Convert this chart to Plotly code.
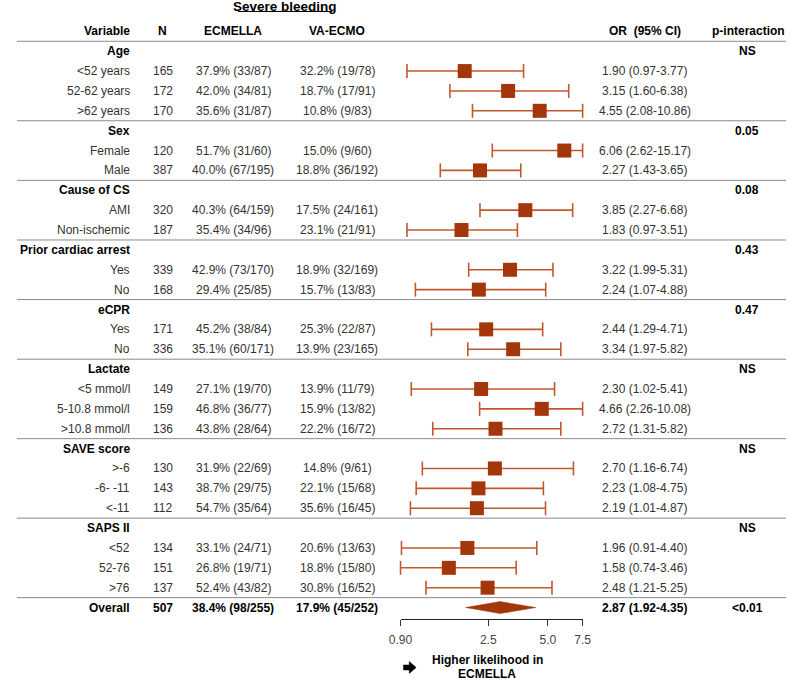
import math
import plotly.graph_objects as go

# ---------------- data ----------------
labels = ["Age", "<52 years", "52-62 years", ">62 years",
          "Sex", "Female", "Male",
          "Cause of CS", "AMI", "Non-ischemic",
          "Prior cardiac arrest", "Yes", "No",
          "eCPR", "Yes", "No",
          "Lactate", "<5 mmol/l", "5-10.8 mmol/l", ">10.8 mmol/l",
          "SAVE score", ">-6", "-6- -11", "<-11",
          "SAPS II", "<52", "52-76", ">76",
          "Overall"]
is_group = [True, False, False, False,
            True, False, False,
            True, False, False,
            True, False, False,
            True, False, False,
            True, False, False, False,
            True, False, False, False,
            True, False, False, False,
            False]
n_vals = [None, 165, 172, 170,
          None, 120, 387,
          None, 320, 187,
          None, 339, 168,
          None, 171, 336,
          None, 149, 159, 136,
          None, 130, 143, 112,
          None, 134, 151, 137,
          507]
ecmella = [None, "37.9% (33/87)", "42.0% (34/81)", "35.6% (31/87)",
           None, "51.7% (31/60)", "40.0% (67/195)",
           None, "40.3% (64/159)", "35.4% (34/96)",
           None, "42.9% (73/170)", "29.4% (25/85)",
           None, "45.2% (38/84)", "35.1% (60/171)",
           None, "27.1% (19/70)", "46.8% (36/77)", "43.8% (28/64)",
           None, "31.9% (22/69)", "38.7% (29/75)", "54.7% (35/64)",
           None, "33.1% (24/71)", "26.8% (19/71)", "52.4% (43/82)",
           "38.4% (98/255)"]
vaecmo = [None, "32.2% (19/78)", "18.7% (17/91)", "10.8% (9/83)",
          None, "15.0% (9/60)", "18.8% (36/192)",
          None, "17.5% (24/161)", "23.1% (21/91)",
          None, "18.9% (32/169)", "15.7% (13/83)",
          None, "25.3% (22/87)", "13.9% (23/165)",
          None, "13.9% (11/79)", "15.9% (13/82)", "22.2% (16/72)",
          None, "14.8% (9/61)", "22.1% (15/68)", "35.6% (16/45)",
          None, "20.6% (13/63)", "18.8% (15/80)", "30.8% (16/52)",
          "17.9% (45/252)"]
or_vals = [None, 1.90, 3.15, 4.55,
           None, 6.06, 2.27,
           None, 3.85, 1.83,
           None, 3.22, 2.24,
           None, 2.44, 3.34,
           None, 2.30, 4.66, 2.72,
           None, 2.70, 2.23, 2.19,
           None, 1.96, 1.58, 2.48,
           2.87]
ci_lo = [None, 0.97, 1.60, 2.08,
         None, 2.62, 1.43,
         None, 2.27, 0.97,
         None, 1.99, 1.07,
         None, 1.29, 1.97,
         None, 1.02, 2.26, 1.31,
         None, 1.16, 1.08, 1.01,
         None, 0.91, 0.74, 1.21,
         1.92]
ci_hi = [None, 3.77, 6.38, 10.86,
         None, 15.17, 3.65,
         None, 6.68, 3.51,
         None, 5.31, 4.88,
         None, 4.71, 5.82,
         None, 5.41, 10.08, 5.82,
         None, 6.74, 4.75, 4.87,
         None, 4.40, 3.46, 5.25,
         4.35]
p_inter = ["NS", None, None, None,
           "0.05", None, None,
           "0.08", None, None,
           "0.43", None, None,
           "0.47", None, None,
           "NS", None, None, None,
           "NS", None, None, None,
           "NS", None, None, None,
           "<0.01"]
tick_vals = [0.90, 2.5, 5.0, 7.5]
tick_text = ["0.90", "2.5", "5.0", "7.5"]

# ---------------- layout constants ----------------
W, H = 800, 681
XMIN, XMAX = 0.9, 7.5
Y0, DY = 51.2, 19.87
AXIS_Y = 619
FONT = "Liberation Sans, Arial, Helvetica, sans-serif"
SQ = "#a3360b"
BAR = "#c0582e"
TXT = "#333333"

def esc(s):
    return s.replace("&", "&amp;").replace("<", "&lt;").replace(">", "&gt;")

def ypos(i):
    return Y0 + DY * i

fig = go.Figure()

# CI lines and caps
lx, ly, cx, cy = [], [], [], []
sx, sy = [], []
for i, (o, lo, hi) in enumerate(zip(or_vals, ci_lo, ci_hi)):
    if o is None or labels[i] == "Overall":
        continue
    y = ypos(i)
    a, b = max(lo, XMIN), min(hi, XMAX)
    lx += [a, b, None]
    ly += [y, y, None]
    cx += [a, b]
    cy += [y, y]
    sx.append(o)
    sy.append(y)

fig.add_trace(go.Scatter(x=lx, y=ly, mode="lines", line=dict(color=BAR, width=1.6),
                         hoverinfo="skip", cliponaxis=False, showlegend=False))
fig.add_trace(go.Scatter(x=cx, y=cy, mode="markers",
                         marker=dict(symbol="line-ns", size=10, line=dict(color=BAR, width=1.6)),
                         hoverinfo="skip", cliponaxis=False, showlegend=False))
fig.add_trace(go.Scatter(x=sx, y=sy, mode="markers",
                         marker=dict(symbol="square", size=14, color=SQ, line=dict(width=0)),
                         cliponaxis=False, showlegend=False))

# Overall diamond
oi = labels.index("Overall")
yo = ypos(oi)
fig.add_trace(go.Scatter(x=[ci_lo[oi], or_vals[oi], ci_hi[oi], or_vals[oi], ci_lo[oi]],
                         y=[yo, yo - 6, yo, yo + 6, yo], mode="lines", fill="toself",
                         fillcolor=SQ, line=dict(color=SQ, width=0.5),
                         hoverinfo="skip", showlegend=False))

ann = []
def add_text(x, y, text, anchor="center", bold=False, color=TXT, size=12, yref="y"):
    ann.append(dict(x=x / W, y=y if yref == "y" else 1 - y / H, xref="paper", yref=yref,
                    text=("<b>%s</b>" % text) if bold else text, showarrow=False,
                    xanchor=anchor, yanchor="middle",
                    font=dict(family=FONT, size=size, color="#000" if bold else color)))

# header
hy = Y0 - DY
add_text(280, 6, "Severe bleeding", bold=True, size=13.5)
add_text(123, hy, "Variable", anchor="right", bold=True)
add_text(155, hy, "N", bold=True)
add_text(227, hy, "ECMELLA", bold=True)
add_text(334, hy, "VA-ECMO", bold=True)
add_text(650, hy, "OR&nbsp; (95% CI)", bold=True)
add_text(756, hy, "p-interaction", bold=True)

for i, lab in enumerate(labels):
    y = ypos(i)
    overall = lab == "Overall"
    bold = is_group[i] or overall
    add_text(123, y, esc(lab), anchor="right", bold=bold)
    if n_vals[i] is not None:
        add_text(155, y, str(n_vals[i]), bold=overall)
    if ecmella[i] is not None:
        add_text(227, y, ecmella[i], bold=overall)
    if vaecmo[i] is not None:
        add_text(334, y, vaecmo[i], bold=overall)
    if or_vals[i] is not None:
        add_text(650, y, "%.2f (%.2f-%.2f)" % (or_vals[i], ci_lo[i], ci_hi[i]), bold=overall)
    if p_inter[i] is not None:
        add_text(755, y, esc(p_inter[i]), bold=True)

add_text(488, 660, "Higher likelihood in", bold=True, yref="paper")
add_text(488, 673.5, "ECMELLA", bold=True, yref="paper")

shapes = []
# separators
sep_rows = [0, 4, 7, 10, 13, 16, 20, 24, 28]
for r in sep_rows:
    yy = ypos(r) - DY / 2
    shapes.append(dict(type="line", xref="paper", yref="y", x0=5 / W, x1=795 / W, y0=yy, y1=yy,
                       line=dict(color="#8a8a8a", width=1)))
# underline for title
shapes.append(dict(type="line", xref="paper", yref="y", x0=232 / W, x1=329 / W, y0=11.5, y1=11.5,
                   line=dict(color="#000", width=1)))
# reference line at OR = 1
shapes.append(dict(type="line", xref="x", yref="paper", x0=0, x1=0, y0=1 - 59 / H, y1=1 - 625 / H,
                   line=dict(color="#222", width=1)))
# arrow icon
pts = [(402, 665), (408, 665), (408, 661.5), (415, 667.5), (408, 673.5), (408, 670), (402, 670)]
path = "M " + " L ".join("%.5f %.5f" % (px / W, 1 - py / H) for px, py in pts) + " Z"
shapes.append(dict(type="path", xref="paper", yref="paper", path=path,
                   fillcolor="#000", line=dict(color="#000", width=0.5)))

fig.update_layout(
    width=W, height=H, margin=dict(l=0, r=0, t=0, b=0),
    paper_bgcolor="white", plot_bgcolor="white",
    xaxis=dict(type="log", domain=[399 / W, 586 / W],
               range=[math.log10(XMIN), math.log10(XMAX)],
               tickvals=tick_vals, ticktext=tick_text, ticks="outside", ticklen=6,
               tickcolor="#333", showline=True, linecolor="#222", linewidth=1,
               showgrid=False, zeroline=False, ticklabelstandoff=4,
               tickfont=dict(family=FONT, size=12, color="#444")),
    yaxis=dict(domain=[1 - AXIS_Y / H, 1], range=[AXIS_Y, 0], visible=False,
               showgrid=False, zeroline=False),
    annotations=ann, shapes=shapes, showlegend=False,
)

fig.write_html("out.html", config={"displayModeBar": False},
               post_script="document.body.style.margin='0';document.body.style.overflow='hidden';")
